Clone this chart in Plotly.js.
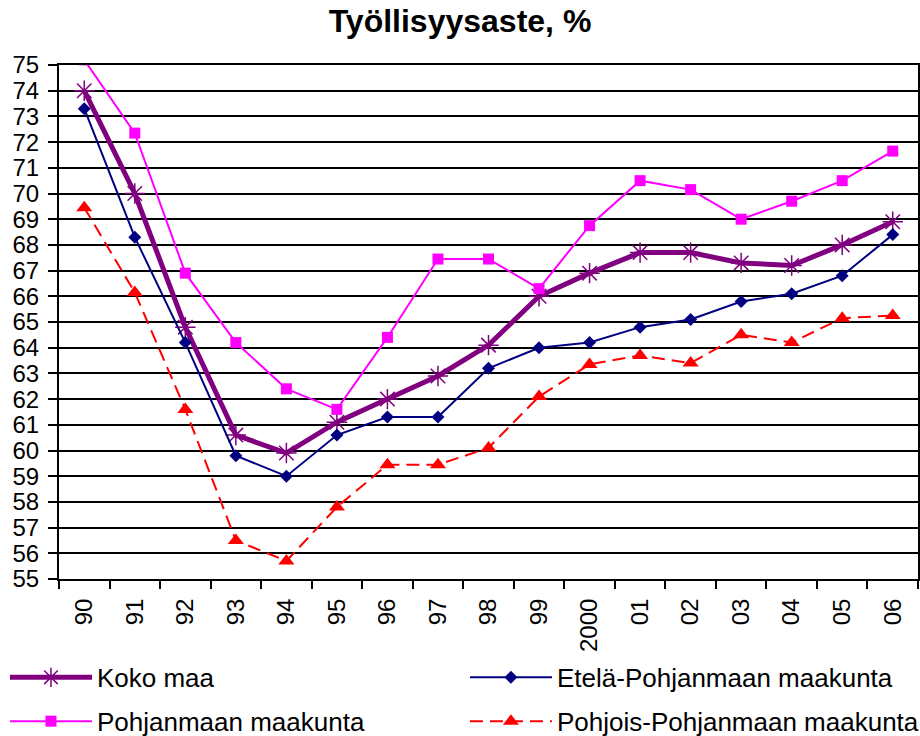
<!DOCTYPE html>
<html>
<head>
<meta charset="utf-8">
<script src="https://cdn.plot.ly/plotly-3.0.1.min.js"></script>
<style>html,body{margin:0;padding:0;background:#fff;}#chart{width:920px;height:736px;}</style>
</head>
<body>
<div id="chart"></div>
<script>
const years = ["90","91","92","93","94","95","96","97","98","99","2000","01","02","03","04","05","06"];
const kokoMaa = [74.0,70.0,64.8,60.6,59.9,61.1,62.0,62.9,64.1,66.0,66.9,67.7,67.7,67.3,67.2,68.0,68.9];
const etelaPohjanmaa = [73.3,68.3,64.2,59.8,59.0,60.6,61.3,61.3,63.2,64.0,64.2,64.8,65.1,65.8,66.1,66.8,68.4];
const pohjanmaa = [75.2,72.35,66.9,64.2,62.4,61.6,64.4,67.45,67.45,66.3,68.75,70.5,70.15,69.0,69.7,70.5,71.65];
const pohjoisPohjanmaa = [69.45,66.15,61.6,56.5,55.7,57.8,59.45,59.45,60.1,62.1,63.35,63.7,63.4,64.5,64.2,65.15,65.25];
const seriesNames = ["Koko maa","Etelä-Pohjanmaan maakunta","Pohjanmaan maakunta","Pohjois-Pohjanmaan maakunta"];

const FONT = "Liberation Sans, Arial, sans-serif";

const traces = [
  {x: years, y: kokoMaa, name: seriesNames[0], type: "scatter", mode: "lines+markers",
   line: {color: "#800080", width: 5},
   marker: {symbol: "asterisk-open", size: 17, color: "#800080", line: {color: "#800080", width: 1.5}},
   legend: "legend", legendgroup: "a"},
  {x: years, y: etelaPohjanmaa, name: seriesNames[1], type: "scatter", mode: "lines+markers",
   line: {color: "#000080", width: 2},
   marker: {symbol: "diamond", size: 10, color: "#000080"},
   legend: "legend2", legendgroup: "b"},
  {x: years, y: pohjanmaa, name: seriesNames[2], type: "scatter", mode: "lines+markers",
   line: {color: "#FF00FF", width: 2},
   marker: {symbol: "square", size: 11, color: "#FF00FF"},
   legend: "legend", legendgroup: "c"},
  {x: years, y: pohjoisPohjanmaa, name: seriesNames[3], type: "scatter", mode: "lines+markers",
   line: {color: "#FF0000", width: 2, dash: "13px,7px"},
   marker: {symbol: "triangle-up", size: 14, color: "#FF0000"},
   legend: "legend2", legendgroup: "d"}
];

const legendCommon = {
  orientation: "v", xanchor: "left", yanchor: "top",
  font: {family: FONT, size: 26, color: "#000"}, itemwidth: 82,
  tracegroupgap: 7, bgcolor: "rgba(0,0,0,0)", traceorder: "grouped"
};

const layout = {
  width: 920, height: 736,
  paper_bgcolor: "#fff", plot_bgcolor: "#fff",
  margin: {l: 59, r: 2, t: 65, b: 157, autoexpand: false},
  font: {family: FONT, color: "#000"},
  title: {text: "<b>Työllisyysaste, %</b>", font: {family: FONT, size: 32, color: "#000"},
          x: 0.5, xref: "container", y: 0.972, yref: "container", yanchor: "middle"},
  xaxis: {type: "category", range: [-0.5, 16.5], tickson: "boundaries", ticks: "outside",
          ticklen: 8, tickwidth: 2, tickcolor: "#000", showline: true, linecolor: "#000", linewidth: 2,
          mirror: true, showgrid: false, tickangle: -90, ticklabelstandoff: 8,
          tickfont: {family: FONT, size: 24, color: "#000"}},
  yaxis: {range: [55, 75], dtick: 1, tick0: 55, ticks: "outside", ticklen: 9, tickwidth: 2, tickcolor: "#000",
          showline: true, linecolor: "#000", linewidth: 2, mirror: true,
          showgrid: true, gridcolor: "#000", gridwidth: 2, zeroline: false, ticklabelstandoff: 4,
          tickfont: {family: FONT, size: 24, color: "#000"}},
  showlegend: true,
  legend: Object.assign({}, legendCommon, {x: -0.0629, y: -0.1458}),
  legend2: Object.assign({}, legendCommon, {x: 0.4726, y: -0.1458})
};

Plotly.newPlot("chart", traces, layout, {displayModeBar: false, staticPlot: true});
</script>
</body>
</html>
